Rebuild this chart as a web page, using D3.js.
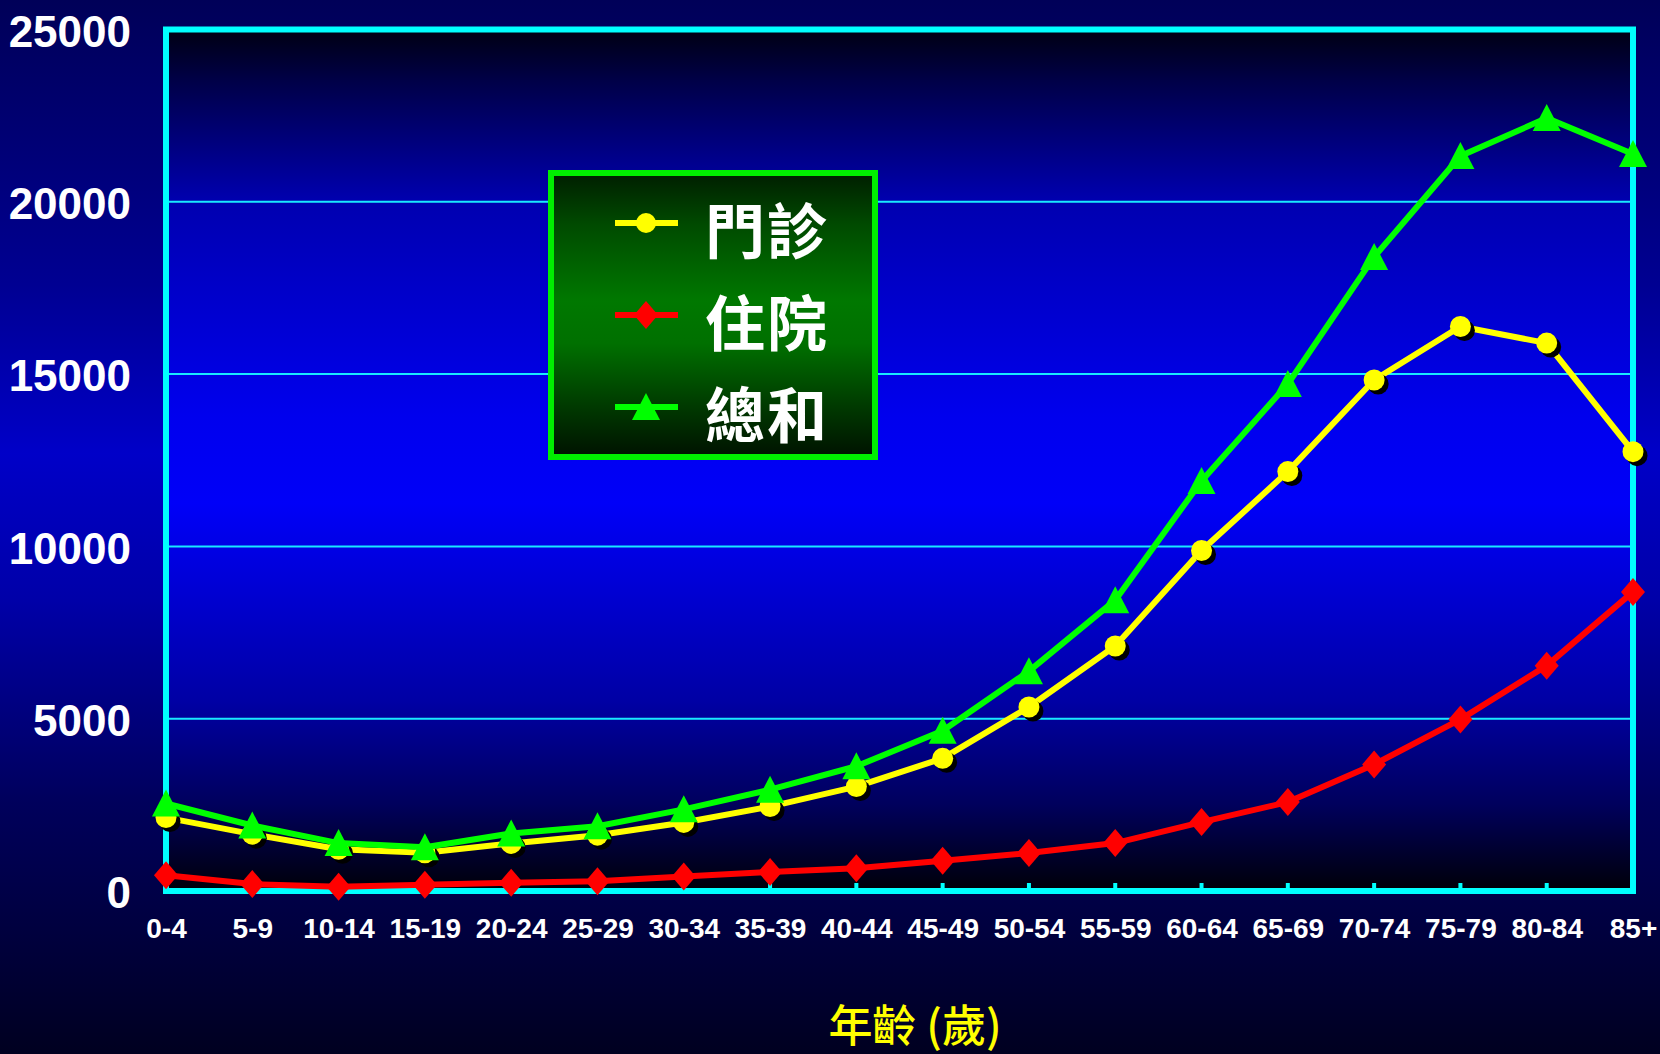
<!DOCTYPE html>
<html>
<head>
<meta charset="utf-8">
<script src="https://cdn.jsdelivr.net/npm/d3@7"></script>
<style>
  html, body { margin: 0; padding: 0; background: #000040; }
  svg { display: block; }
</style>
</head>
<body>
<svg id="chart" width="1660" height="1054"></svg>
<script>
// ---- data ----
const categories = ["0-4","5-9","10-14","15-19","20-24","25-29","30-34","35-39","40-44","45-49","50-54","55-59","60-64","65-69","70-74","75-79","80-84","85+"];
const outpatient = [2130, 1650, 1210, 1110, 1380, 1620, 1990, 2450, 3030, 3850, 5340, 7110, 9880, 12170, 14830, 16380, 15900, 12750];
const inpatient  = [460, 200, 125, 180, 240, 280, 420, 550, 660, 880, 1100, 1390, 2000, 2580, 3670, 4980, 6540, 8680];
const total      = [2540, 1900, 1390, 1270, 1670, 1880, 2370, 2940, 3620, 4650, 6380, 8440, 11900, 14710, 18400, 21330, 22430, 21390];
const yTicks = [0, 5000, 10000, 15000, 20000, 25000];
const seriesNames = ["門診", "住院", "總和"];
const xTitle = "年齡 (歲)";

(function () {
// ---- layout ----
const W = 1660, H = 1054;
const pLeft = 166, pRight = 1633, pTop = 29.5, pBottom = 891;

const svg = d3.select("#chart");
const defs = svg.append("defs");

function vGrad(id, stops) {
  const g = defs.append("linearGradient").attr("id", id)
    .attr("x1", 0).attr("y1", 0).attr("x2", 0).attr("y2", 1);
  stops.forEach(s => g.append("stop").attr("offset", s[0]).attr("stop-color", s[1]));
}
vGrad("bgGrad", [["0%", "#000058"], ["27%", "#000092"], ["43%", "#0000c8"], ["57%", "#0000a8"], ["76%", "#00005c"], ["91%", "#000038"], ["100%", "#000020"]]);
vGrad("plotGrad", [["0%", "#000012"], ["6%", "#000048"], ["20%", "#0000b0"], ["45%", "#0000ee"], ["55%", "#0000f8"], ["78%", "#0000a4"], ["90%", "#00005c"], ["100%", "#000008"]]);
vGrad("legGrad", [["0%", "#001e00"], ["18%", "#004a00"], ["45%", "#007800"], ["60%", "#007000"], ["82%", "#003a00"], ["100%", "#001200"]]);

svg.append("rect").attr("width", W).attr("height", H).attr("fill", "url(#bgGrad)");
svg.append("rect").attr("x", pLeft).attr("y", pTop).attr("width", pRight - pLeft).attr("height", pBottom - pTop)
  .attr("fill", "url(#plotGrad)");

const x = d3.scalePoint().domain(categories).range([pLeft, pRight]);
const y = d3.scaleLinear().domain([0, 25000]).range([pBottom, pTop]);

// gridlines
svg.append("g").selectAll("line").data(yTicks.filter(t => t > 0 && t < 25000)).join("line")
  .attr("x1", pLeft).attr("x2", pRight).attr("y1", d => y(d)).attr("y2", d => y(d))
  .attr("stroke", "#19e8ff").attr("stroke-width", 2);

// plot border
const cyan = "#00ffff";
svg.append("rect").attr("x", pLeft).attr("y", pTop).attr("width", pRight - pLeft).attr("height", pBottom - pTop)
  .attr("fill", "none").attr("stroke", cyan).attr("stroke-width", 6);

// x ticks (pointing inward)
svg.append("g").selectAll("line").data(categories).join("line")
  .attr("x1", d => x(d)).attr("x2", d => x(d))
  .attr("y1", pBottom - 8).attr("y2", pBottom)
  .attr("stroke", cyan).attr("stroke-width", 4);

// y axis labels
const yAxis = svg.append("g").attr("transform", `translate(${pLeft},0)`)
  .call(d3.axisLeft(y).tickValues(yTicks).tickSize(0).tickPadding(35).tickFormat(d3.format("d")));
yAxis.select(".domain").remove();
yAxis.selectAll("text")
  .attr("fill", "#ffffff").attr("dy", "0.38em")
  .style("font-family", "'Liberation Sans', Arial, sans-serif")
  .style("font-weight", "bold").style("font-size", "44px");

// x axis labels
const xAxis = svg.append("g").attr("transform", `translate(0,${pBottom})`)
  .call(d3.axisBottom(x).tickSize(0).tickPadding(27));
xAxis.select(".domain").remove();
xAxis.selectAll("text")
  .attr("fill", "#ffffff")
  .style("font-family", "'Liberation Sans', Arial, sans-serif")
  .style("font-weight", "bold").style("font-size", "28px");

// x title
svg.append("text").attr("x", 915).attr("y", 1042).attr("text-anchor", "middle")
  .attr("fill", "#ffff00")
  .style("font-family", "'Noto Sans CJK TC', sans-serif")
  .style("font-weight", "500").style("font-size", "44px")
  .text(xTitle);

// ---- series ----
const line = d3.line().x((d, i) => x(categories[i])).y(d => y(d)).curve(d3.curveLinear);

const colRed = "#ff0000", colYellow = "#ffff00", colGreen = "#00ff00";
const diamond = (cx, cy) => `M${cx},${cy-14}L${cx+12},${cy}L${cx},${cy+14}L${cx-12},${cy}Z`;
const triangle = (cx, cy) => `M${cx},${cy-14}L${cx+14},${cy+13}L${cx-14},${cy+13}Z`;

// inpatient (red diamonds)
svg.append("path").datum(inpatient).attr("d", line).attr("fill", "none")
  .attr("stroke", colRed).attr("stroke-width", 6).attr("stroke-linejoin", "round");
svg.append("g").selectAll("path").data(inpatient).join("path")
  .attr("d", (d, i) => diamond(x(categories[i]), y(d))).attr("fill", colRed);

// outpatient (yellow circles with shadow)
svg.append("path").datum(outpatient).attr("d", line).attr("fill", "none")
  .attr("stroke", colYellow).attr("stroke-width", 6).attr("stroke-linejoin", "round");
svg.append("g").selectAll("circle").data(outpatient).join("circle")
  .attr("cx", (d, i) => x(categories[i]) + 4).attr("cy", d => y(d) + 4).attr("r", 10.5).attr("fill", "#000000");
svg.append("g").selectAll("circle").data(outpatient).join("circle")
  .attr("cx", (d, i) => x(categories[i])).attr("cy", d => y(d)).attr("r", 10.5).attr("fill", colYellow);

// total (green triangles)
svg.append("path").datum(total).attr("d", line).attr("fill", "none")
  .attr("stroke", colGreen).attr("stroke-width", 6).attr("stroke-linejoin", "round");
svg.append("g").selectAll("path").data(total).join("path")
  .attr("d", (d, i) => triangle(x(categories[i]), y(d))).attr("fill", colGreen);

// ---- legend ----
const leg = svg.append("g");
leg.append("rect").attr("x", 551).attr("y", 173).attr("width", 324).attr("height", 284)
  .attr("fill", "url(#legGrad)").attr("stroke", "#00ee00").attr("stroke-width", 6);
const legY = [223, 315, 407];
const legCol = [colYellow, colRed, colGreen];
legY.forEach((ly, i) => {
  leg.append("line").attr("x1", 615).attr("x2", 678).attr("y1", ly).attr("y2", ly)
    .attr("stroke", legCol[i]).attr("stroke-width", 6);
  if (i === 0) leg.append("circle").attr("cx", 646).attr("cy", ly).attr("r", 10).attr("fill", colYellow);
  if (i === 1) leg.append("path").attr("d", diamond(646, ly)).attr("fill", colRed);
  if (i === 2) leg.append("path").attr("d", triangle(646, ly)).attr("fill", colGreen);
  leg.append("text").attr("x", 705).attr("y", ly + 31)
    .attr("fill", "#ffffff")
    .style("font-family", "'Noto Sans CJK TC', sans-serif")
    .style("font-weight", "700").style("font-size", "60px")
    .style("letter-spacing", "2px")
    .text(seriesNames[i]);
});
})();
</script>
</body>
</html>
